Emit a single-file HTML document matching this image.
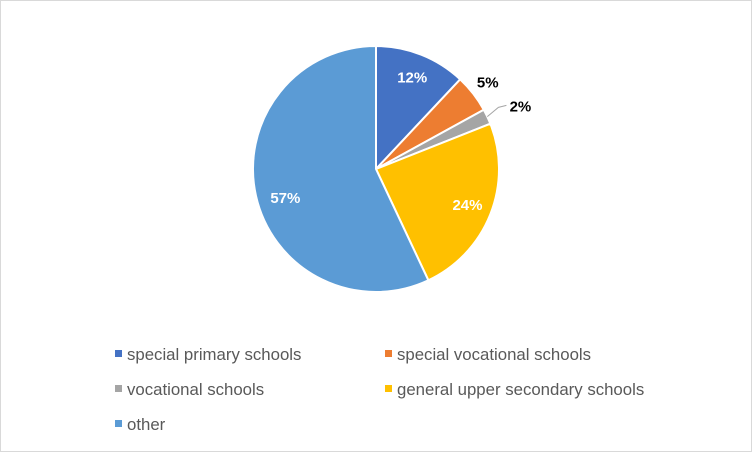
<!DOCTYPE html>
<html><head><meta charset="utf-8"><style>
body{margin:0;background:#fff}
svg{display:block;font-family:"Liberation Sans",sans-serif}
</style></head><body>
<svg id="chart" width="752" height="452" viewBox="0 0 752 452">
<rect x="0.5" y="0.5" width="751" height="451" fill="#fff" stroke="#d9d9d9"/>
<g id="slices"></g><g id="labels"></g><g id="legend"></g>
</svg>
<script>
const categories=["special primary schools","special vocational schools","vocational schools","general upper secondary schools","other"];
const values=[12,5,2,24,57];
const colors=["#4472C4","#ED7D31","#A5A5A5","#FFC000","#5B9BD5"];
const NS="http://www.w3.org/2000/svg";
const cx=376,cy=169,r=123;
const total=values.reduce((a,b)=>a+b,0);
function pt(a,rad){return [cx+rad*Math.sin(a),cy-rad*Math.cos(a)];}
const sg=document.getElementById('slices'),lg=document.getElementById('labels'),leg=document.getElementById('legend');
let cum=0;
values.forEach((v,i)=>{
  const a0=cum/total*2*Math.PI;cum+=v;const a1=cum/total*2*Math.PI;
  const [x0,y0]=pt(a0,r),[x1,y1]=pt(a1,r);
  const p=document.createElementNS(NS,'path');
  p.setAttribute('d',`M${cx},${cy}L${x0},${y0}A${r},${r} 0 ${a1-a0>Math.PI?1:0} 1 ${x1},${y1}Z`);
  p.setAttribute('fill',colors[i]);p.setAttribute('stroke','#fff');p.setAttribute('stroke-width','2');
  
  
  sg.appendChild(p);
  const am=(a0+a1)/2;const frac=v/total;
  const t=document.createElementNS(NS,'text');
  t.setAttribute('font-size','15');t.setAttribute('font-weight','bold');t.setAttribute('text-anchor','middle');
  let lx,ly,fill='#fff';
  if(frac>=0.5){[lx,ly]=pt(am,r*0.78);ly+=8;lx+=3;}
  else if(frac>=0.1){[lx,ly]=pt(am,r*0.8);}
  else if(frac>=0.04){[lx,ly]=pt(am,r*1.15);fill='#000';}
  else{
    const [ax,ay]=pt(am,r*1.0),[bx,by]=pt(am,r*1.1);
    const l=document.createElementNS(NS,'polyline');
    l.setAttribute('points',`${ax},${ay} ${bx},${by-4} ${bx+8},${by-6}`);
    l.setAttribute('fill','none');l.setAttribute('stroke','#a6a6a6');
    
    
    lg.appendChild(l);
    lx=bx+22;ly=by-5;fill='#000';
  }
  t.setAttribute('x',lx);t.setAttribute('y',ly+5);t.setAttribute('fill',fill);
  t.textContent=Math.round(frac*100)+'%';
  
  
  lg.appendChild(t);
  const col=i%2,row=Math.floor(i/2);
  const gx=col?388:118,gy=354+row*35;
  const g=document.createElementNS(NS,'g');
  
  
  const s=document.createElementNS(NS,'rect');
  s.setAttribute('x',gx-3);s.setAttribute('y',gy-4);s.setAttribute('width',7);s.setAttribute('height',7);s.setAttribute('fill',colors[i]);
  const tx=document.createElementNS(NS,'text');
  tx.setAttribute('x',gx+9);tx.setAttribute('y',gy+6);tx.setAttribute('font-size','16.8');tx.setAttribute('fill','#595959');
  tx.textContent=categories[i];
  g.appendChild(s);g.appendChild(tx);leg.appendChild(g);
});
</script>
</body></html>
